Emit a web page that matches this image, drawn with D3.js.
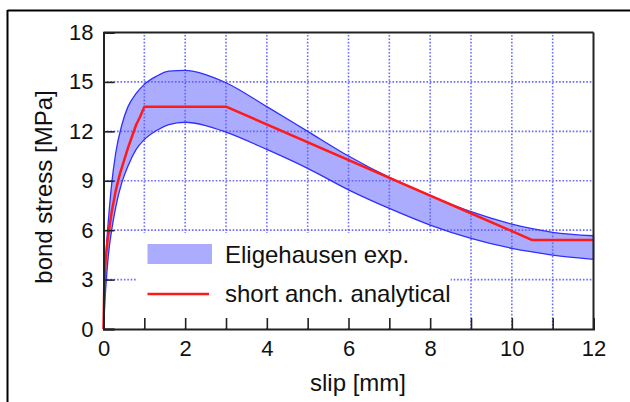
<!DOCTYPE html>
<html>
<head>
<meta charset="utf-8">
<script src="https://cdn.jsdelivr.net/npm/d3@7"></script>
<style>
  body { margin: 0; background: #fff; }
  svg { display: block; }
  text { font-family: "Liberation Sans", Arial, Helvetica, sans-serif; fill: #111; }
</style>
</head>
<body>
<div id="chart"></div>
<script>
// slip [mm] samples for the experimental envelope
var bandSlip  = [0, 0.03, 0.07, 0.12, 0.2, 0.3, 0.45, 0.6, 0.8, 1, 1.3, 1.6, 2, 2.5, 3, 4, 5, 6, 7, 8, 9, 10, 10.5, 11, 12];
var bandUpper = [0, 2.9, 4.9, 6.6, 8.8, 10.7, 12.4, 13.5, 14.3, 14.85, 15.35, 15.65, 15.7, 15.45, 14.95, 13.5, 12.0, 10.5, 9.2, 8.1, 7.12, 6.37, 6.09, 5.87, 5.66];
var bandLower = [0, 1.5, 3.0, 4.5, 6.0, 7.4, 8.9, 9.9, 10.9, 11.5, 12.05, 12.4, 12.55, 12.35, 11.95, 10.9, 9.75, 8.45, 7.32, 6.31, 5.5, 4.9, 4.68, 4.49, 4.23];

// analytical curve
var anaSlip   = [0, 0.02, 0.05, 0.1, 0.2, 0.3, 0.4, 0.5, 0.6, 0.7, 0.8, 0.9, 1, 3, 10.5, 12];
var anaStress = [0, 2.8, 4.1, 5.4, 7.1, 8.4, 9.4, 10.2, 11.0, 11.7, 12.4, 12.9, 13.5, 13.5, 5.4, 5.4];

var xMajor = d3.range(0, 12.01, 1);
var xMinor = d3.range(0.5, 12, 1);
var yMajor = d3.range(0, 18.01, 3);
var yMinor = d3.range(1.5, 18, 3);
var xGrid = d3.range(1, 12, 1);
var yGrid = [3, 6, 9, 12, 15];

var legendLabels = ["Eligehausen exp.", "short anch. analytical"];

var W = 630, H = 402;
var svg = d3.select("#chart").append("svg").attr("width", W).attr("height", H);

// outer frame (top + left only visible)
svg.append("line").attr("x1", 7.5).attr("x2", W).attr("y1", 10.5).attr("y2", 10.5)
    .attr("stroke", "#000").attr("stroke-width", 2);
svg.append("line").attr("x1", 7.5).attr("x2", 7.5).attr("y1", 10).attr("y2", H)
    .attr("stroke", "#000").attr("stroke-width", 2);

var x = d3.scaleLinear().domain([0, 12]).range([103.5, 593.5]);
var y = d3.scaleLinear().domain([0, 18]).range([329, 32.5]);

var gridColor = "#6b6bff";

// grid
svg.append("g").selectAll("line").data(xGrid).enter().append("line")
    .attr("x1", function(d) { return x(d); }).attr("x2", function(d) { return x(d); })
    .attr("y1", y(0)).attr("y2", y(18))
    .attr("stroke", gridColor).attr("stroke-width", 1.6).attr("stroke-dasharray", "1.6,1.8");
svg.append("g").selectAll("line").data(yGrid).enter().append("line")
    .attr("x1", x(0)).attr("x2", x(12))
    .attr("y1", function(d) { return y(d); }).attr("y2", function(d) { return y(d); })
    .attr("stroke", gridColor).attr("stroke-width", 1.6).attr("stroke-dasharray", "1.6,1.8");

// legend background hides grid
svg.append("rect").attr("x", x(0.8)).attr("y", 233).attr("width", x(8.5) - x(0.8))
    .attr("height", y(0) - 233 - 1).attr("fill", "#fff");

// band
var bandData = bandSlip.map(function(s, i) { return {s: s, lo: bandLower[i], hi: bandUpper[i]}; });
var area = d3.area()
    .x(function(d) { return x(d.s); })
    .y0(function(d) { return y(d.lo); })
    .y1(function(d) { return y(d.hi); })
    .curve(d3.curveMonotoneX);
svg.append("path").datum(bandData).attr("d", area)
    .attr("fill", "#5a5aff").attr("fill-opacity", 0.5)
    .attr("stroke", "#2f2fff").attr("stroke-width", 1.3);

// analytical line
var anaData = anaSlip.map(function(s, i) { return [s, anaStress[i]]; });
var line = d3.line()
    .x(function(d) { return x(d[0]); })
    .y(function(d) { return y(d[1]); });
svg.append("path").datum(anaData).attr("d", line)
    .attr("fill", "none").attr("stroke", "#ff1a1a").attr("stroke-width", 2.5)
    .attr("stroke-linejoin", "round");

// axes
var axisColor = "#222";
var gx = svg.append("g").attr("transform", "translate(0," + y(0) + ")");
gx.call(d3.axisBottom(x).tickValues(xMinor).tickSize(-6).tickFormat(""));
gx.call(d3.axisBottom(x).tickValues(xMajor).tickSize(-11).tickPadding(11)
    .tickFormat(function(d) { return d % 2 === 0 ? d : ""; }));

var gy = svg.append("g").attr("transform", "translate(" + x(0) + ",0)");
gy.call(d3.axisLeft(y).tickValues(yMinor).tickSize(-6).tickFormat(""));
gy.call(d3.axisLeft(y).tickValues(yMajor).tickSize(-11).tickPadding(10));

svg.selectAll(".domain").attr("stroke", axisColor).attr("stroke-width", 2);
svg.selectAll(".tick line").attr("stroke", axisColor).attr("stroke-width", 1.6);
svg.selectAll(".tick text").style("font-size", "22px").attr("fill", "#111");

// top and right frame of plot
svg.append("line").attr("x1", x(0)).attr("x2", x(12)).attr("y1", y(18)).attr("y2", y(18))
    .attr("stroke", axisColor).attr("stroke-width", 2);
svg.append("line").attr("x1", x(12)).attr("x2", x(12)).attr("y1", y(18)).attr("y2", y(0))
    .attr("stroke", axisColor).attr("stroke-width", 2);

// axis titles
svg.append("text").attr("x", 358).attr("y", 391).attr("text-anchor", "middle")
    .style("font-size", "24px").text("slip [mm]");
svg.append("text").attr("transform", "translate(51.5,187) rotate(-90)")
    .attr("text-anchor", "middle").style("font-size", "24px").text("bond stress [MPa]");

// legend
svg.append("rect").attr("x", 147.5).attr("y", 244).attr("width", 64.5).attr("height", 20)
    .attr("fill", "#5a5aff").attr("fill-opacity", 0.5);
svg.append("line").attr("x1", 147.5).attr("x2", 209).attr("y1", 294).attr("y2", 294)
    .attr("stroke", "#ff1a1a").attr("stroke-width", 2.5);
svg.append("text").attr("x", 225).attr("y", 262.5).style("font-size", "24px").text(legendLabels[0]);
svg.append("text").attr("x", 225).attr("y", 301.5).style("font-size", "24px").text(legendLabels[1]);
</script>
</body>
</html>
